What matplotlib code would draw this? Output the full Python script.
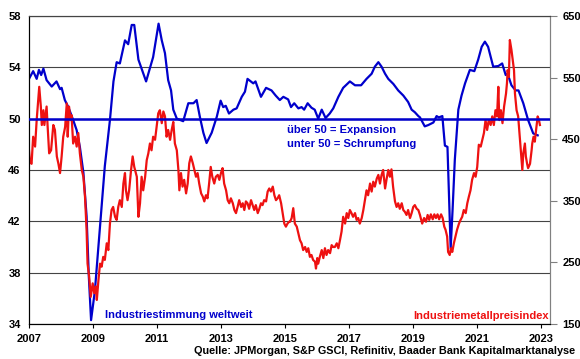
import matplotlib
matplotlib.use('Agg')

import matplotlib.pyplot as plt

# Globaler Einkaufsmanagerindex Industrie (linke Achse)
pmi_t = [2007.00, 2007.13, 2007.24, 2007.31, 2007.38, 2007.45, 2007.55, 2007.71, 2007.86, 2007.97,
         2008.02, 2008.12, 2008.23, 2008.38, 2008.49, 2008.59, 2008.70, 2008.80, 2008.87, 2008.94,
         2009.06, 2009.22, 2009.37, 2009.53, 2009.64, 2009.74, 2009.84, 2010.00, 2010.10, 2010.21,
         2010.29, 2010.42, 2010.66, 2010.88, 2011.05, 2011.15, 2011.25, 2011.35, 2011.44, 2011.51,
         2011.62, 2011.82, 2011.98, 2012.14, 2012.24, 2012.34, 2012.45, 2012.55, 2012.71, 2012.87,
         2012.99, 2013.07, 2013.15, 2013.25, 2013.39, 2013.49, 2013.65, 2013.75, 2013.83, 2014.01,
         2014.08, 2014.25, 2014.41, 2014.58, 2014.71, 2014.84, 2014.95, 2015.10, 2015.19, 2015.29,
         2015.42, 2015.52, 2015.60, 2015.71, 2015.83, 2015.93, 2016.04, 2016.15, 2016.27, 2016.40,
         2016.51, 2016.67, 2016.82, 2017.03, 2017.19, 2017.38, 2017.55, 2017.71, 2017.81, 2017.92,
         2018.02, 2018.13, 2018.23, 2018.39, 2018.54, 2018.70, 2018.85, 2018.96, 2019.06, 2019.17,
         2019.22, 2019.37, 2019.48, 2019.64, 2019.74, 2019.81, 2019.92, 2020.00, 2020.08, 2020.18,
         2020.24, 2020.31, 2020.42, 2020.52, 2020.63, 2020.78, 2020.92, 2021.04, 2021.15, 2021.25,
         2021.35, 2021.51, 2021.67, 2021.79, 2021.90, 2021.96, 2022.08, 2022.21, 2022.30, 2022.45,
         2022.60, 2022.76, 2022.90]
pmi_v = [53.1, 53.7, 53.1, 53.8, 53.4, 53.9, 53.0, 52.5, 52.9, 52.3,
         52.4, 51.45, 50.9, 49.9, 49.1, 47.8, 45.8, 42.4, 37.7, 34.3,
         36.6, 41.6, 46.3, 49.9, 52.9, 54.4, 54.3, 56.1, 55.8, 57.3,
         57.3, 54.6, 52.9, 54.8, 57.4, 56.1, 55.1, 53.0, 52.2, 50.7,
         50.0, 49.8, 51.2, 51.2, 51.45, 50.15, 48.9, 48.1, 48.9, 50.15,
         51.4, 50.9, 51.0, 50.4, 50.7, 50.8, 51.7, 52.1, 53.1, 52.75,
         52.9, 51.7, 52.4, 52.2, 51.8, 51.45, 51.7, 51.5, 50.9, 51.2,
         50.8, 50.9, 50.7, 51.2, 50.85, 50.7, 50.0, 50.7, 50.05, 50.4,
         50.8, 51.7, 52.4, 52.9, 52.6, 52.6, 53.1, 53.5, 54.05, 54.4,
         54.05, 53.5, 53.1, 52.7, 52.2, 51.8, 51.3, 50.7, 50.5, 50.2,
         50.1, 49.4, 49.5, 49.7, 50.2, 50.1, 50.2, 47.9, 47.8, 39.9,
         42.9, 46.8, 50.7, 51.8, 52.75, 53.8, 53.7, 54.6, 55.6, 56.0,
         55.6, 54.05, 54.1, 54.3, 53.4, 53.5, 52.6, 52.2, 52.2, 51.2,
         49.9, 48.85, 48.7]

# S&P GSCI Industriemetalle (rechte Achse)
metal_t = [2007.00, 2007.03, 2007.08, 2007.13, 2007.19, 2007.24, 2007.29, 2007.32, 2007.37, 2007.40,
           2007.45, 2007.48, 2007.55, 2007.58, 2007.63, 2007.69, 2007.76, 2007.81, 2007.87, 2007.92,
           2007.97, 2008.02, 2008.07, 2008.13, 2008.18, 2008.21, 2008.25, 2008.30, 2008.33, 2008.38,
           2008.44, 2008.49, 2008.54, 2008.59, 2008.65, 2008.70, 2008.75, 2008.80, 2008.83, 2008.88,
           2008.93, 2008.99, 2009.04, 2009.09, 2009.12, 2009.17, 2009.22, 2009.27, 2009.32, 2009.37,
           2009.43, 2009.48, 2009.53, 2009.58, 2009.63, 2009.69, 2009.74, 2009.79, 2009.84, 2009.90,
           2009.95, 2010.00, 2010.03, 2010.08, 2010.13, 2010.19, 2010.24, 2010.29, 2010.37, 2010.42,
           2010.47, 2010.52, 2010.57, 2010.63, 2010.68, 2010.73, 2010.78, 2010.83, 2010.88, 2010.94,
           2010.99, 2011.04, 2011.09, 2011.15, 2011.20, 2011.25, 2011.30, 2011.35, 2011.41, 2011.46,
           2011.51, 2011.56, 2011.62, 2011.67, 2011.70, 2011.75, 2011.80, 2011.85, 2011.91, 2011.96,
           2012.01, 2012.06, 2012.12, 2012.17, 2012.22, 2012.27, 2012.32, 2012.38, 2012.43, 2012.48,
           2012.53, 2012.58, 2012.63, 2012.68, 2012.73, 2012.79, 2012.84, 2012.90, 2012.95, 2013.00,
           2013.05, 2013.10, 2013.16, 2013.21, 2013.26, 2013.31, 2013.37, 2013.42, 2013.47, 2013.52,
           2013.57, 2013.63, 2013.68, 2013.73, 2013.78, 2013.83, 2013.88, 2013.94, 2013.99, 2014.04,
           2014.09, 2014.15, 2014.20, 2014.25, 2014.30, 2014.35, 2014.41, 2014.46, 2014.51, 2014.56,
           2014.62, 2014.67, 2014.72, 2014.77, 2014.82, 2014.88, 2014.93, 2014.98, 2015.03, 2015.08,
           2015.13, 2015.16, 2015.21, 2015.26, 2015.31, 2015.37, 2015.42, 2015.47, 2015.52, 2015.57,
           2015.63, 2015.68, 2015.73, 2015.78, 2015.83, 2015.88, 2015.94, 2015.97, 2016.01, 2016.04,
           2016.09, 2016.15, 2016.20, 2016.25, 2016.30, 2016.35, 2016.41, 2016.46, 2016.51, 2016.56,
           2016.62, 2016.67, 2016.72, 2016.77, 2016.82, 2016.88, 2016.93, 2016.98, 2017.03, 2017.08,
           2017.13, 2017.19, 2017.24, 2017.29, 2017.34, 2017.40, 2017.45, 2017.50, 2017.55, 2017.60,
           2017.66, 2017.71, 2017.76, 2017.81, 2017.87, 2017.92, 2017.97, 2018.02, 2018.07, 2018.13,
           2018.18, 2018.23, 2018.28, 2018.33, 2018.38, 2018.44, 2018.49, 2018.54, 2018.59, 2018.65,
           2018.70, 2018.75, 2018.80, 2018.85, 2018.91, 2018.96, 2019.01, 2019.06, 2019.12, 2019.17,
           2019.22, 2019.29, 2019.35, 2019.41, 2019.46, 2019.51, 2019.56, 2019.62, 2019.67, 2019.72,
           2019.77, 2019.82, 2019.88, 2019.93, 2019.98, 2020.02, 2020.07, 2020.10, 2020.15, 2020.19,
           2020.23, 2020.28, 2020.33, 2020.38, 2020.44, 2020.49, 2020.54, 2020.59, 2020.65, 2020.70,
           2020.75, 2020.80, 2020.85, 2020.91, 2020.96, 2021.01, 2021.06, 2021.12, 2021.17, 2021.22,
           2021.27, 2021.32, 2021.37, 2021.43, 2021.48, 2021.53, 2021.58, 2021.63, 2021.67, 2021.70,
           2021.75, 2021.80, 2021.85, 2021.91, 2021.94, 2021.96, 2022.00, 2022.03, 2022.08, 2022.12,
           2022.16, 2022.19, 2022.24, 2022.29, 2022.34, 2022.37, 2022.42, 2022.45, 2022.50, 2022.53,
           2022.57, 2022.60, 2022.66, 2022.71, 2022.73, 2022.77, 2022.81, 2022.85, 2022.90, 2022.94,
           2022.97]
metal_v = [432, 413, 410, 454, 438, 481, 514, 535, 503, 473,
           497, 473, 503, 473, 427, 432, 473, 465, 422, 410,
           395, 422, 454, 470, 508, 454, 503, 481, 489, 443,
           454, 438, 460, 427, 400, 389, 357, 303, 248, 227,
           194, 216, 200, 211, 189, 221, 248, 243, 259, 254,
           281, 270, 313, 335, 340, 324, 319, 340, 351, 340,
           378, 395, 367, 351, 367, 400, 422, 405, 389, 324,
           346, 389, 367, 389, 416, 427, 443, 432, 454, 449,
           470, 492, 497, 476, 495, 487, 454, 465, 449, 465,
           478, 443, 432, 400, 367, 395, 373, 384, 362, 378,
           411, 422, 411, 400, 389, 395, 378, 362, 357, 349,
           359, 354, 378, 405, 389, 378, 389, 392, 384, 395,
           403, 378, 367, 351, 346, 354, 346, 335, 330, 340,
           351, 340, 346, 335, 349, 346, 337, 351, 343, 335,
           343, 330, 337, 346, 343, 351, 349, 365, 370, 365,
           373, 359, 351, 354, 359, 346, 330, 313, 308, 313,
           316, 316, 322, 338, 313, 308, 297, 286, 281, 270,
           275, 267, 273, 259, 262, 254, 251, 240, 257, 248,
           259, 270, 257, 273, 262, 270, 265, 278, 275, 275,
           281, 273, 286, 300, 324, 313, 330, 322, 335, 330,
           324, 330, 319, 322, 313, 322, 335, 351, 367, 359,
           378, 365, 381, 373, 386, 392, 378, 392, 400, 370,
           386, 400, 389, 401, 373, 349, 340, 346, 337, 346,
           335, 332, 327, 335, 322, 330, 340, 343, 337, 335,
           327, 313, 322, 316, 327, 319, 328, 320, 328, 322,
           328, 320, 328, 322, 308, 303, 292, 267, 262, 273,
           267, 281, 292, 303, 313, 319, 324, 335, 330, 346,
           357, 367, 384, 395, 389, 405, 441, 438, 449, 460,
           481, 465, 481, 473, 487, 473, 497, 487, 535, 481,
           497, 476, 503, 524, 541, 562, 551, 611, 595, 579,
           562, 524, 497, 487, 454, 432, 400, 427, 443, 422,
           410, 403, 410, 432, 443, 454, 446, 465, 487, 481,
           473]

year_ticks = [2007, 2009, 2011, 2013, 2015, 2017, 2019, 2021, 2023]
left_ticks = [34, 38, 42, 46, 50, 54, 58]
right_ticks = [150, 250, 350, 450, 550, 650]

blue = '#0000CC'
red = '#EE1111'
plt.rcParams['font.family'] = ['Liberation Sans', 'DejaVu Sans']
plt.rcParams['font.weight'] = 'bold'

fig = plt.figure(figsize=(5.8, 3.59), dpi=100)
ax = fig.add_axes([0.05, 0.0975, 0.898, 0.858])
ax2 = ax.twinx()

ax.set_xlim(2007, 2023.28)
ax.set_ylim(34, 58)
ax2.set_ylim(150, 650)

ax.yaxis.grid(True, color='#444444', lw=0.8)
ax.set_axisbelow(True)

ax.plot(pmi_t, pmi_v, color=blue, lw=1.6)
ax2.plot(metal_t, metal_v, color=red, lw=1.6)
# 50er-Linie ueber beiden Reihen
ax2.plot([2007, 2023.28], [50, 50], color=blue, lw=1.8, transform=ax.transData, zorder=5)

ax.set_xticks(year_ticks)
ax.set_xticklabels([str(y) for y in year_ticks], fontsize=8, fontweight='bold')
ax.set_yticks(left_ticks)
ax.set_yticklabels([str(v) for v in left_ticks], fontsize=8, fontweight='bold')
ax2.set_yticks(right_ticks)
ax2.set_yticklabels([str(v) for v in right_ticks], fontsize=8, fontweight='bold')

ax.tick_params(axis='x', direction='out', length=3, width=0.8, pad=4, colors='black')
ax.tick_params(axis='y', length=0, pad=6)
ax2.tick_params(axis='y', direction='out', length=5, width=0.8, color='#808080', pad=4)

for a in (ax, ax2):
    a.spines['left'].set_color('black')
    a.spines['bottom'].set_color('black')
    a.spines['right'].set_color('#808080')
    a.spines['top'].set_color('#444444')
    a.spines['top'].set_linewidth(0.8)

ax.text(2015.06, 49.1, 'über 50 = Expansion', color=blue, fontsize=8, fontweight='bold', va='center')
ax.text(2015.06, 48.05, 'unter 50 = Schrumpfung', color=blue, fontsize=8, fontweight='bold', va='center')
ax.text(2009.375, 34.7, 'Industriestimmung weltweit', color=blue, fontsize=8, fontweight='bold', va='center')
ax.text(2023.24, 34.65, 'Industriemetallpreisindex', color=red, fontsize=8, fontweight='bold', va='center', ha='right')

fig.text(0.991, 0.021, 'Quelle: JPMorgan, S&P GSCI, Refinitiv, Baader Bank Kapitalmarktanalyse',
         fontsize=7.85, fontweight='bold', ha='right', va='center')

plt.savefig('out.png', dpi=100)
